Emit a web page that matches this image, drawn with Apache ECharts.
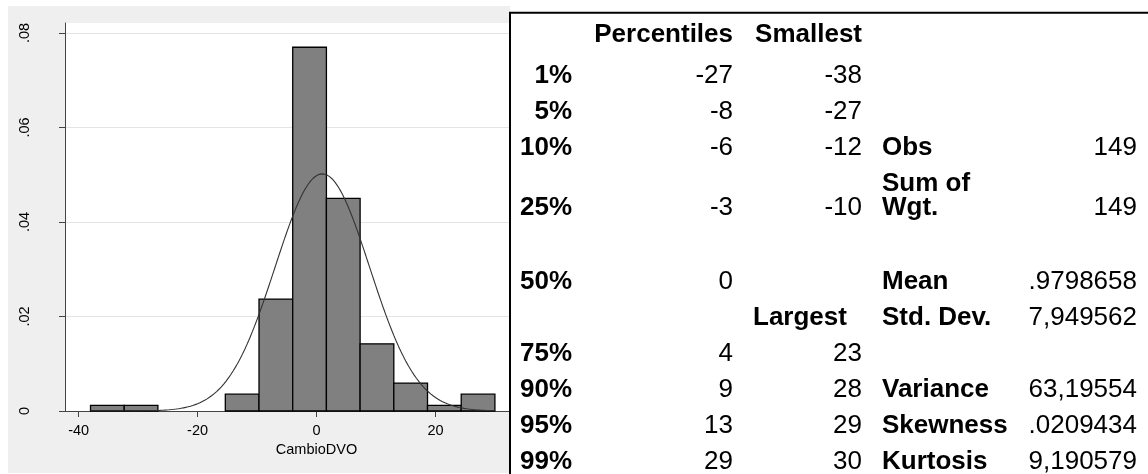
<!DOCTYPE html>
<html>
<head>
<meta charset="utf-8">
<script src="https://cdn.jsdelivr.net/npm/echarts@6/dist/echarts.min.js"></script>
<style>
  html, body { margin: 0; padding: 0; background: #ffffff; }
  #chart { width: 1148px; height: 474px; }
</style>
</head>
<body>
<div id="chart"></div>
<script>
// ---- Histogram of CambioDVO (density scale), 12 bins from -38 to 30 ----
const binEdges = [-38, -32.333, -26.667, -21, -15.333, -9.667, -4, 1.667, 7.333, 13, 18.667, 24.333, 30];
const binDensity = [0.00118, 0.00118, 0, 0, 0.00355, 0.02369, 0.07698, 0.04501, 0.01421, 0.00592, 0.00118, 0.00355];

// Sample moments used for the normal overlay
const sampleMean = 0.9798658;
const sampleSD = 7.949562;

// Axis ticks
const xTicks = [-40, -20, 0, 20, 40];
const yTicks = [0, 0.02, 0.04, 0.06, 0.08];
const yTickText = ['0', '.02', '.04', '.06', '.08'];
const xTitle = 'CambioDVO';

// ---- Summary table ----
const headerPct = 'Percentiles';
const headerSmall = 'Smallest';
const headerLarge = 'Largest';
const pctLabels = ['1%', '5%', '10%', '25%', '50%', '75%', '90%', '95%', '99%'];
const pctValues = ['-27', '-8', '-6', '-3', '0', '4', '9', '13', '29'];
const smallestValues = ['-38', '-27', '-12', '-10'];
const largestValues = ['23', '28', '29', '30'];
const statNames = ['Obs', 'Sum of\nWgt.', 'Mean', 'Std. Dev.', 'Variance', 'Skewness', 'Kurtosis'];
const statValues = ['149', '149', '.9798658', '7,949562', '63,19554', '.0209434', '9,190579'];

// ---- layout of the table (row centres and column anchors) ----
const pctRowY = [76, 112, 148, 208, 282, 354, 390, 426, 462];
const headerY = 35;
const largestHeaderY = 318;
const smallestRowY = [76, 112, 148, 208];
const largestRowY = [354, 390, 426, 462];
const statRowY = [148, 196, 282, 318, 390, 426, 462];
const sumWgtValueY = 208;
const colPctLabelRight = 572;
const colPctRight = 733;
const colExtRight = 862;
const colLargeLeft = 753;
const colStatLeft = 882;
const colStatRight = 1137;

const FONT = '"Liberation Sans", Arial, Helvetica, sans-serif';

// Histogram rows for the custom series: [left edge, right edge, density]
const histData = binDensity.map((d, i) => [binEdges[i], binEdges[i + 1], d]);

// Normal density for the sample mean and SD, evaluated along the data range
const normalCurve = [];
for (let k = 0; k <= 340; k++) {
  const x = binEdges[0] + (binEdges[binEdges.length - 1] - binEdges[0]) * k / 340;
  const z = (x - sampleMean) / sampleSD;
  normalCurve.push([x, Math.exp(-0.5 * z * z) / (sampleSD * Math.sqrt(2 * Math.PI))]);
}

function txt(x, y, text, bold, align) {
  return {
    type: 'text', x: x, y: y, z: 60, silent: true,
    style: {
      text: text,
      font: (bold ? 'bold ' : '') + '26px ' + FONT,
      fill: '#000000',
      align: align, textAlign: align,
      verticalAlign: 'middle', textVerticalAlign: 'middle',
      lineHeight: 24
    }
  };
}

const tableGraphics = [
  // panel holding the summary table
  { type: 'rect', z: 50, silent: true, shape: { x: 510, y: 0, width: 638, height: 474 }, style: { fill: '#ffffff' } },
  { type: 'line', z: 55, silent: true, shape: { x1: 509, y1: 12.7, x2: 1148, y2: 12.7 }, style: { stroke: '#000000', lineWidth: 2 } },
  { type: 'line', z: 55, silent: true, shape: { x1: 510, y1: 12, x2: 510, y2: 474 }, style: { stroke: '#000000', lineWidth: 2 } },
  txt(colPctRight, headerY, headerPct, true, 'right'),
  txt(colExtRight, headerY, headerSmall, true, 'right'),
  txt(colLargeLeft, largestHeaderY, headerLarge, true, 'left')
];
pctLabels.forEach((t, i) => tableGraphics.push(txt(colPctLabelRight, pctRowY[i], t, true, 'right')));
pctValues.forEach((t, i) => tableGraphics.push(txt(colPctRight, pctRowY[i], t, false, 'right')));
smallestValues.forEach((t, i) => tableGraphics.push(txt(colExtRight, smallestRowY[i], t, false, 'right')));
largestValues.forEach((t, i) => tableGraphics.push(txt(colExtRight, largestRowY[i], t, false, 'right')));
statNames.forEach((t, i) => tableGraphics.push(txt(colStatLeft, statRowY[i], t, true, 'left')));
statValues.forEach((t, i) => {
  const y = (i === 1) ? sumWgtValueY : statRowY[i];
  tableGraphics.push(txt(colStatRight, y, t, false, 'right'));
});

const chart = echarts.init(document.getElementById('chart'), null, { renderer: 'canvas' });

chart.setOption({
  animation: false,
  backgroundColor: '#ffffff',
  graphic: [
    // graph region
    { type: 'rect', z: -1, silent: true, shape: { x: 8, y: 6, width: 502, height: 467 }, style: { fill: '#efefef' } }
  ].concat(tableGraphics),
  grid: {
    left: 65, right: 580, top: 23, bottom: 63,
    show: true, backgroundColor: '#ffffff', borderWidth: 0
  },
  xAxis: {
    type: 'value', min: -42.29, max: 42.29,
    name: xTitle, nameLocation: 'middle', nameGap: 25,
    nameTextStyle: { fontFamily: FONT, fontSize: 14.5, color: '#000' },
    axisLine: { show: true, onZero: false, lineStyle: { color: '#444', width: 1 } },
    axisTick: { show: true, length: 6, customValues: xTicks, lineStyle: { color: '#444', width: 1 } },
    axisLabel: { customValues: xTicks, margin: 12, fontFamily: FONT, fontSize: 14.5, color: '#000' },
    splitLine: { show: false }
  },
  yAxis: {
    type: 'value', min: 0, max: 0.08211,
    axisLine: { show: true, onZero: false, lineStyle: { color: '#444', width: 1 } },
    axisTick: { show: true, length: 6, customValues: yTicks, lineStyle: { color: '#444', width: 1 } },
    axisLabel: {
      customValues: yTicks, rotate: 90, margin: 33,
      fontFamily: FONT, fontSize: 14.5, color: '#000',
      formatter: function (v) {
        const i = yTicks.findIndex(t => Math.abs(t - v) < 1e-9);
        return i >= 0 ? yTickText[i] : '';
      }
    },
    splitLine: { show: true, lineStyle: { color: '#e4e4e4', width: 1 } }
  },
  series: [
    {
      type: 'custom',
      z: 2,
      data: histData,
      encode: { x: [0, 1], y: 2 },
      renderItem: function (params, api) {
        const d = api.value(2);
        if (!d) return null;
        const p0 = api.coord([api.value(0), d]);
        const p1 = api.coord([api.value(1), 0]);
        return {
          type: 'rect',
          shape: { x: p0[0], y: p0[1], width: p1[0] - p0[0], height: p1[1] - p0[1] },
          style: { fill: '#808080', stroke: '#000000', lineWidth: 1.3 }
        };
      }
    },
    {
      type: 'line',
      z: 3,
      data: normalCurve,
      showSymbol: false,
      symbol: 'none',
      lineStyle: { color: '#333333', width: 1.1 }
    }
  ]
});
</script>
</body>
</html>
